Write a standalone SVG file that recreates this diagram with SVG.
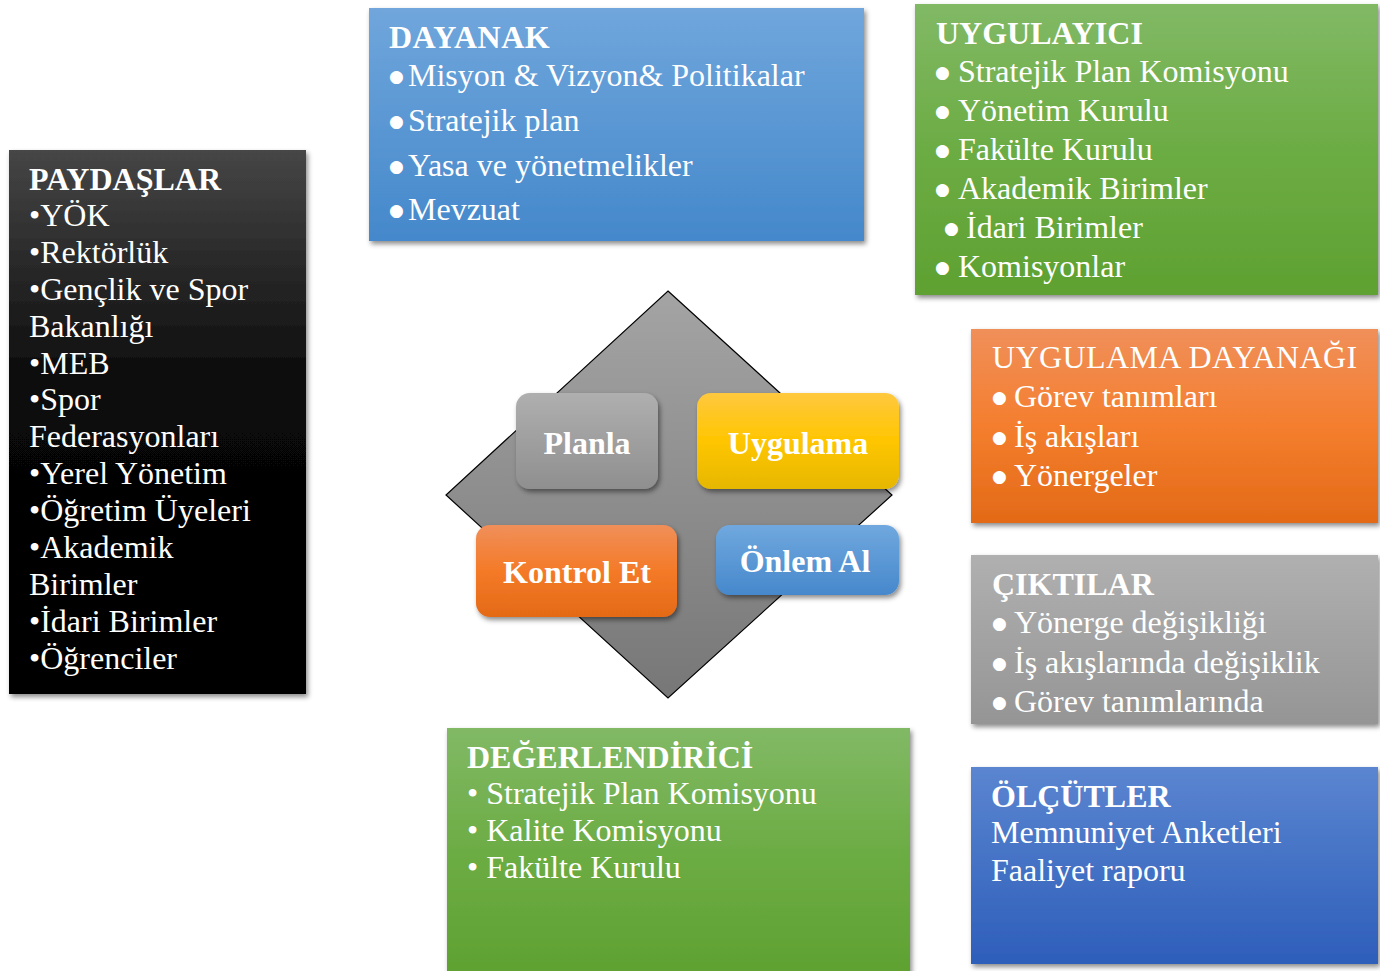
<svg xmlns="http://www.w3.org/2000/svg" width="1380" height="971" viewBox="0 0 1380 971">
<defs>
<linearGradient id="gBlue" x1="0" y1="0" x2="0" y2="1"><stop offset="0" stop-color="#70a6dc"/><stop offset="1" stop-color="#4488cb"/></linearGradient>
<linearGradient id="gGreen" x1="0" y1="0" x2="0" y2="1"><stop offset="0" stop-color="#81b965"/><stop offset="0.5" stop-color="#6cac44"/><stop offset="1" stop-color="#5fa131"/></linearGradient>
<linearGradient id="gBlack" x1="0" y1="0" x2="0" y2="1"><stop offset="0" stop-color="#464646"/><stop offset="0.45" stop-color="#080808"/><stop offset="1" stop-color="#000000"/></linearGradient>
<linearGradient id="gOrange" x1="0" y1="0" x2="0" y2="1"><stop offset="0" stop-color="#f08f5a"/><stop offset="0.5" stop-color="#f47e2e"/><stop offset="1" stop-color="#e36a17"/></linearGradient>
<linearGradient id="gGray" x1="0" y1="0" x2="0" y2="1"><stop offset="0" stop-color="#b0b0b0"/><stop offset="1" stop-color="#959595"/></linearGradient>
<linearGradient id="gDeep" x1="0" y1="0" x2="0" y2="1"><stop offset="0" stop-color="#5b85d0"/><stop offset="1" stop-color="#2d5eba"/></linearGradient>
<linearGradient id="gDiamond" x1="0" y1="0" x2="0" y2="1"><stop offset="0" stop-color="#a4a4a4"/><stop offset="1" stop-color="#777777"/></linearGradient>
<linearGradient id="gPlan" x1="0" y1="0" x2="0" y2="1"><stop offset="0" stop-color="#afafaf"/><stop offset="1" stop-color="#8f8f8f"/></linearGradient>
<linearGradient id="gGold" x1="0" y1="0" x2="0" y2="1"><stop offset="0" stop-color="#ffc83f"/><stop offset="0.5" stop-color="#ffc600"/><stop offset="1" stop-color="#e6b700"/></linearGradient>
<linearGradient id="gOrange2" x1="0" y1="0" x2="0" y2="1"><stop offset="0" stop-color="#f08f5a"/><stop offset="0.5" stop-color="#f47a28"/><stop offset="1" stop-color="#e46a17"/></linearGradient>
<linearGradient id="gBlue2" x1="0" y1="0" x2="0" y2="1"><stop offset="0" stop-color="#70a8de"/><stop offset="1" stop-color="#4688cc"/></linearGradient>
<filter id="sh" x="-10%" y="-10%" width="125%" height="130%"><feDropShadow dx="2" dy="3" stdDeviation="2.5" flood-color="#000" flood-opacity="0.45"/></filter>
</defs>
<style>
text{font-family:"Liberation Serif","Times New Roman",serif;fill:#fff;font-size:32px}
.t{font-weight:bold}
.c{font-weight:bold;text-anchor:middle}
.bul{font-family:"DejaVu Sans",sans-serif;font-size:17px}
</style>
<rect width="1380" height="971" fill="#fff"/>
<g id="connectors"/>

<g id="dayanak">
<rect x="369" y="8" width="495" height="233" fill="url(#gBlue)" filter="url(#sh)"/>
<text class="t" x="389" y="48" letter-spacing="0.5">DAYANAK</text>
<text class="bul" x="389" y="82">●</text><text x="408" y="86">Misyon &amp; Vizyon&amp; Politikalar</text>
<text class="bul" x="389" y="127">●</text><text x="408" y="131">Stratejik plan</text>
<text class="bul" x="389" y="172">●</text><text x="408" y="176">Yasa ve yönetmelikler</text>
<text class="bul" x="389" y="216">●</text><text x="408" y="220">Mevzuat</text>
</g>

<g id="uygulayici">
<rect x="915" y="4" width="463" height="291" fill="url(#gGreen)" filter="url(#sh)"/>
<text class="t" x="936" y="44">UYGULAYICI</text>
<text class="bul" x="935" y="78">●</text><text x="958" y="82">Stratejik Plan Komisyonu</text>
<text class="bul" x="935" y="117">●</text><text x="958" y="121">Yönetim Kurulu</text>
<text class="bul" x="935" y="156">●</text><text x="958" y="160">Fakülte Kurulu</text>
<text class="bul" x="935" y="195">●</text><text x="958" y="199">Akademik Birimler</text>
<text class="bul" x="944" y="234">●</text><text x="966" y="238">İdari Birimler</text>
<text class="bul" x="935" y="273">●</text><text x="958" y="277">Komisyonlar</text>
</g>

<g id="paydaslar">
<rect x="9" y="150" width="297" height="544" fill="url(#gBlack)" filter="url(#sh)"/>
<text class="t" x="29" y="190">PAYDAŞLAR</text>
<text x="29" y="226">•YÖK</text>
<text x="29" y="263">•Rektörlük</text>
<text x="29" y="300">•Gençlik ve Spor</text>
<text x="29" y="337">Bakanlığı</text>
<text x="29" y="374">•MEB</text>
<text x="29" y="410">•Spor</text>
<text x="29" y="447">Federasyonları</text>
<text x="29" y="484">•Yerel Yönetim</text>
<text x="29" y="521">•Öğretim Üyeleri</text>
<text x="29" y="558">•Akademik</text>
<text x="29" y="595">Birimler</text>
<text x="29" y="632">•İdari Birimler</text>
<text x="29" y="669">•Öğrenciler</text>
</g>

<g id="cycle">
<polygon points="668,291 892,495 668,698 446,495" fill="url(#gDiamond)" stroke="#000" stroke-width="1.2"/>
</g>

<g id="planla">
<rect x="516" y="393" width="142" height="96" rx="14" fill="url(#gPlan)" filter="url(#sh)"/>
<text class="c" x="587" y="454">Planla</text>
</g>
<g id="uygulama">
<rect x="697" y="393" width="202" height="96" rx="14" fill="url(#gGold)" filter="url(#sh)"/>
<text class="c" x="798" y="454">Uygulama</text>
</g>
<g id="kontrol-et">
<rect x="476" y="525" width="201" height="92" rx="14" fill="url(#gOrange2)" filter="url(#sh)"/>
<text class="c" x="577" y="583">Kontrol Et</text>
</g>
<g id="onlem-al">
<rect x="716" y="525" width="183" height="70" rx="14" fill="url(#gBlue2)" filter="url(#sh)"/>
<text class="c" x="805" y="572">Önlem Al</text>
</g>

<g id="uygulama-dayanagi">
<rect x="971" y="329" width="407" height="194" fill="url(#gOrange)" filter="url(#sh)"/>
<text x="992" y="368" letter-spacing="0.4">UYGULAMA DAYANAĞI</text>
<text class="bul" x="992" y="403">●</text><text x="1014" y="407">Görev tanımları</text>
<text class="bul" x="992" y="443">●</text><text x="1014" y="447">İş akışları</text>
<text class="bul" x="992" y="482">●</text><text x="1014" y="486">Yönergeler</text>
</g>

<g id="ciktilar">
<rect x="971" y="555" width="407" height="169" fill="url(#gGray)" filter="url(#sh)"/>
<text class="t" x="992" y="595">ÇIKTILAR</text>
<text class="bul" x="992" y="629">●</text><text x="1014" y="633">Yönerge değişikliği</text>
<text class="bul" x="992" y="669">●</text><text x="1014" y="673">İş akışlarında değişiklik</text>
<text class="bul" x="992" y="708">●</text><text x="1014" y="712">Görev tanımlarında</text>
</g>

<g id="degerlendirici">
<rect x="447" y="728" width="463" height="250" fill="url(#gGreen)" filter="url(#sh)"/>
<text class="t" x="467" y="768">DEĞERLENDİRİCİ</text>
<text x="467" y="804">• Stratejik Plan Komisyonu</text>
<text x="467" y="841">• Kalite Komisyonu</text>
<text x="467" y="878">• Fakülte Kurulu</text>
</g>

<g id="olcutler">
<rect x="971" y="767" width="407" height="197" fill="url(#gDeep)" filter="url(#sh)"/>
<text class="t" x="991" y="807">ÖLÇÜTLER</text>
<text x="991" y="843">Memnuniyet Anketleri</text>
<text x="991" y="881">Faaliyet raporu</text>
</g>
</svg>
